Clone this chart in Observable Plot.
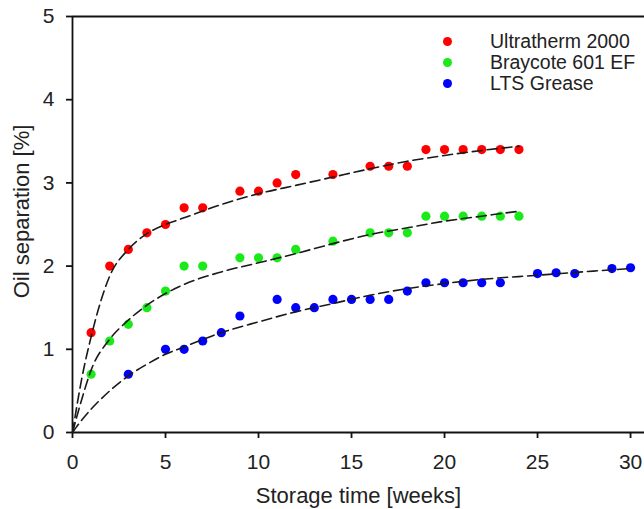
<!DOCTYPE html>
<html><head><meta charset="utf-8">
<script src="https://cdn.jsdelivr.net/npm/d3@7"></script>
<script src="https://cdn.jsdelivr.net/npm/@observablehq/plot@0.6"></script>
<style>
body{margin:0;background:#fff;}
#wrap{position:relative;width:644px;height:509px;font-family:"Liberation Sans",Arial,sans-serif;overflow:hidden;}
#legend{position:absolute;left:443px;top:31px;font-size:19.5px;color:#222;}
.item{display:flex;align-items:center;height:21px;}
.dot{width:9px;height:9px;border-radius:50%;margin-right:38px;}
</style></head><body>
<div id="wrap"><div id="chart"></div><div id="legend"></div></div>
<script>
// Measured data
const seriesNames = ["Ultratherm 2000", "Braycote 601 EF", "LTS Grease"];
const seriesColors = ["#ff0000", "#1aea1a", "#0000ff"];

const weeksUltra = [1,2,3,4,5,6,7,9,10,11,12,14,16,17,18,19,20,21,22,23,24];
const valsUltra  = [1.2,2.0,2.2,2.4,2.5,2.7,2.7,2.9,2.9,3.0,3.1,3.1,3.2,3.2,3.2,3.4,3.4,3.4,3.4,3.4,3.4];

const weeksBray = [1,2,3,4,5,6,7,9,10,11,12,14,16,17,18,19,20,21,22,23,24];
const valsBray  = [0.7,1.1,1.3,1.5,1.7,2.0,2.0,2.1,2.1,2.1,2.2,2.3,2.4,2.4,2.4,2.6,2.6,2.6,2.6,2.6,2.6];

const weeksLTS = [3,5,6,7,8,9,11,12,13,14,15,16,17,18,19,20,21,22,23,25,26,27,29,30];
const valsLTS  = [0.7,1.0,1.0,1.1,1.2,1.4,1.6,1.5,1.5,1.6,1.6,1.6,1.6,1.7,1.8,1.8,1.8,1.8,1.8,1.91,1.92,1.91,1.97,1.98];

// Fitted (dashed) curves
const fitWeeks24 = [0,0.5,1,2,3,4,5,6,8,10,12,14,16,18,20,22,24];
const fitUltra   = [0,0.65,1.15,1.88,2.2,2.39,2.5,2.58,2.74,2.87,2.97,3.07,3.17,3.26,3.33,3.39,3.44];
const fitBray    = [0,0.4,0.75,1.12,1.35,1.53,1.67,1.78,1.93,2.04,2.15,2.27,2.38,2.46,2.54,2.6,2.66];
const fitWeeks30 = [0,0.5,1,2,3,4,5,6,8,10,12,14,16,18,20,22,25,28,30];
const fitLTS     = [0,0.15,0.28,0.5,0.68,0.82,0.94,1.03,1.2,1.33,1.45,1.55,1.65,1.73,1.79,1.84,1.89,1.94,1.97];

const xTicks = [0,5,10,15,20,25,30];
const yTicks = [0,1,2,3,4,5];

const pts = [];
[[weeksUltra, valsUltra], [weeksBray, valsBray], [weeksLTS, valsLTS]].forEach(([w, v], i) =>
  w.forEach((t, j) => pts.push({t, v: v[j], s: seriesNames[i]})));
const fits = [];
[[fitWeeks24, fitUltra], [fitWeeks24, fitBray], [fitWeeks30, fitLTS]].forEach(([w, v], i) =>
  w.forEach((t, j) => fits.push({t, v: v[j], s: seriesNames[i]})));

const chart = Plot.plot({
  width: 644, height: 509,
  marginLeft: 72, marginRight: 0, marginTop: 16, marginBottom: 77,
  style: {fontFamily: "'Liberation Sans', Arial, sans-serif", color: "#222", background: "#fff"},
  x: {domain: [0, 30.75]},
  y: {domain: [0, 5]},
  color: {domain: seriesNames, range: seriesColors},
  marks: [
    Plot.ruleY([0, 5], {stroke: "#111", strokeWidth: 1.8}),
    Plot.ruleX([0], {y1: 0, y2: 5, stroke: "#111", strokeWidth: 1.8}),
    Plot.axisX({ticks: xTicks, tickFormat: d => String(d), tickSize: 6, tickPadding: 16, fontSize: 21, strokeWidth: 1.8, stroke: "#111",
      label: "Storage time [weeks]", labelAnchor: "center", labelArrow: "none", labelOffset: 70}),
    Plot.axisY({ticks: yTicks, tickFormat: d => String(d), tickSize: 6, tickPadding: 12, fontSize: 21, strokeWidth: 1.8, stroke: "#111",
      label: "Oil separation [%]", labelAnchor: "center", labelArrow: "none", labelOffset: 59}),
    Plot.dot(pts, {x: "t", y: "v", fill: "s", r: 4.6}),
    Plot.line(fits, {x: "t", y: "v", z: "s", curve: "monotone-x", stroke: "#1a1a1a", strokeWidth: 1.6, strokeDasharray: "10,5"})
  ]
});
chart.querySelectorAll("g[aria-label$='axis label'] text").forEach(t => t.setAttribute("font-size", "22"));
chart.querySelectorAll("g[aria-label='y-axis label'] text").forEach(t => {
  const tr = t.getAttribute("transform") || "";
  t.setAttribute("transform", tr + " translate(13,0)");
});
document.getElementById("chart").appendChild(chart);

const legend = document.getElementById("legend");
seriesNames.forEach((n, i) => {
  const d = document.createElement("div"); d.className = "item";
  const c = document.createElement("span"); c.className = "dot"; c.style.background = seriesColors[i];
  const s = document.createElement("span"); s.textContent = n;
  d.appendChild(c); d.appendChild(s); legend.appendChild(d);
});
</script>
</body></html>
